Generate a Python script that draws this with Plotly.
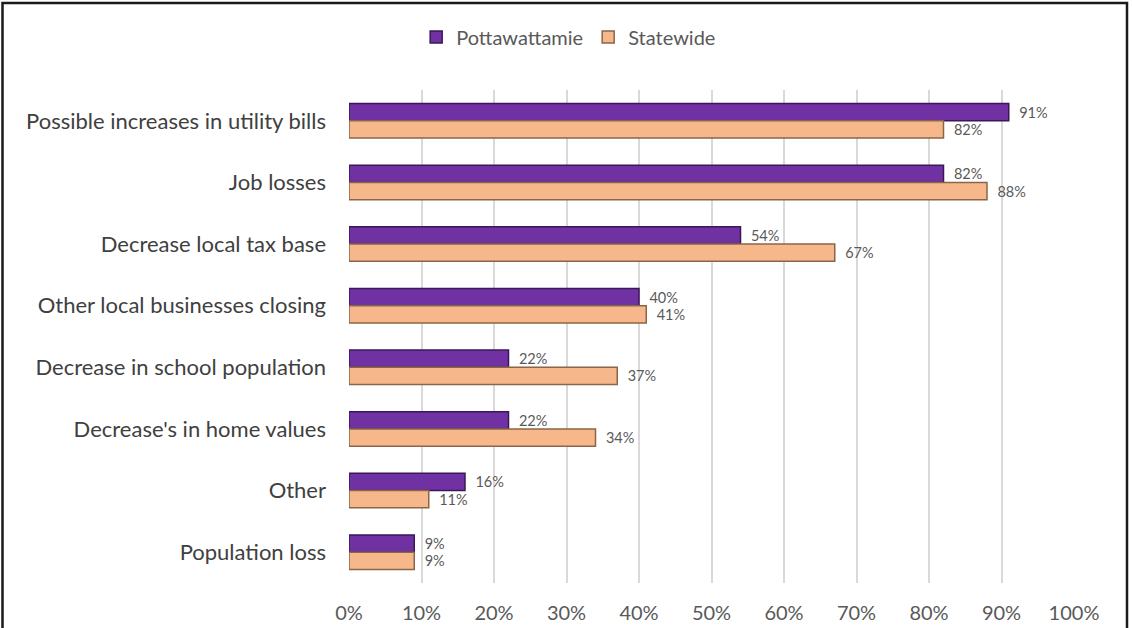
import plotly.graph_objects as go

categories = [
    "Possible increases in utility bills",
    "Job losses",
    "Decrease local tax base",
    "Other local businesses closing",
    "Decrease in school population",
    "Decrease's in home values",
    "Other",
    "Population loss",
]
pottawattamie = [91, 82, 54, 40, 22, 22, 16, 9]
statewide = [82, 88, 67, 41, 37, 34, 11, 9]
x_ticks = [0, 10, 20, 30, 40, 50, 60, 70, 80, 90, 100]
x_tick_labels = [f"{v}%" for v in x_ticks]

FONT = "Lato, Open Sans, sans-serif"

fig = go.Figure()
fig.add_trace(go.Bar(
    name="Pottawattamie", y=categories, x=pottawattamie, orientation="h",
    marker=dict(color="#7031A3", line=dict(color="#3A1858", width=1.5)),
    text=[f"{v}%" for v in pottawattamie], textposition="outside",
    texttemplate="  %{text}", constraintext="none",
    textfont=dict(size=14.5, color="#595959", family=FONT), cliponaxis=False,
))
fig.add_trace(go.Bar(
    name="Statewide", y=categories, x=statewide, orientation="h",
    marker=dict(color="#F6B88A", line=dict(color="#8A6548", width=1.5)),
    text=[f"{v}%" for v in statewide], textposition="outside",
    texttemplate="  %{text}", constraintext="none",
    textfont=dict(size=14.5, color="#595959", family=FONT), cliponaxis=False,
))

fig.update_layout(
    width=1132, height=628,
    margin=dict(l=349, r=58, t=90, b=45, autoexpand=False),
    paper_bgcolor="white", plot_bgcolor="white",
    barmode="group", bargap=0.44, bargroupgap=0.0,
    font=dict(family=FONT, color="#595959", size=19),
    legend=dict(orientation="h", x=0.303, xanchor="center", xref="paper",
                y=0.972, yref="container", yanchor="top",
                bgcolor="rgba(0,0,0,0)",
                font=dict(size=20, color="#595959"), traceorder="normal"),
    showlegend=True,
    xaxis=dict(range=[0, 100], tickvals=x_ticks, ticktext=x_tick_labels,
               showgrid=True, gridcolor="#D9D9D9", gridwidth=2,
               zeroline=False, showline=False, ticks="",
               ticklabelstandoff=16, automargin=False,
               tickfont=dict(size=20, color="#595959")),
    yaxis=dict(autorange="reversed", showgrid=False, showline=False,
               ticks="", ticklabelstandoff=22, automargin=False,
               tickfont=dict(size=22, color="#404040")),
    shapes=[dict(type="rect", xref="paper", yref="paper",
                 x0=(2.5 - 349) / 725, x1=(1127 - 349) / 725,
                 y0=(583 - 640) / 493, y1=(583 - 3) / 493,
                 line=dict(color="#1a1a1a", width=2.5), layer="above")],
)

fig.write_html(
    "out.html",
    config={"displayModeBar": False},
    post_script="document.body.style.margin='0';document.body.style.overflow='hidden';",
)
